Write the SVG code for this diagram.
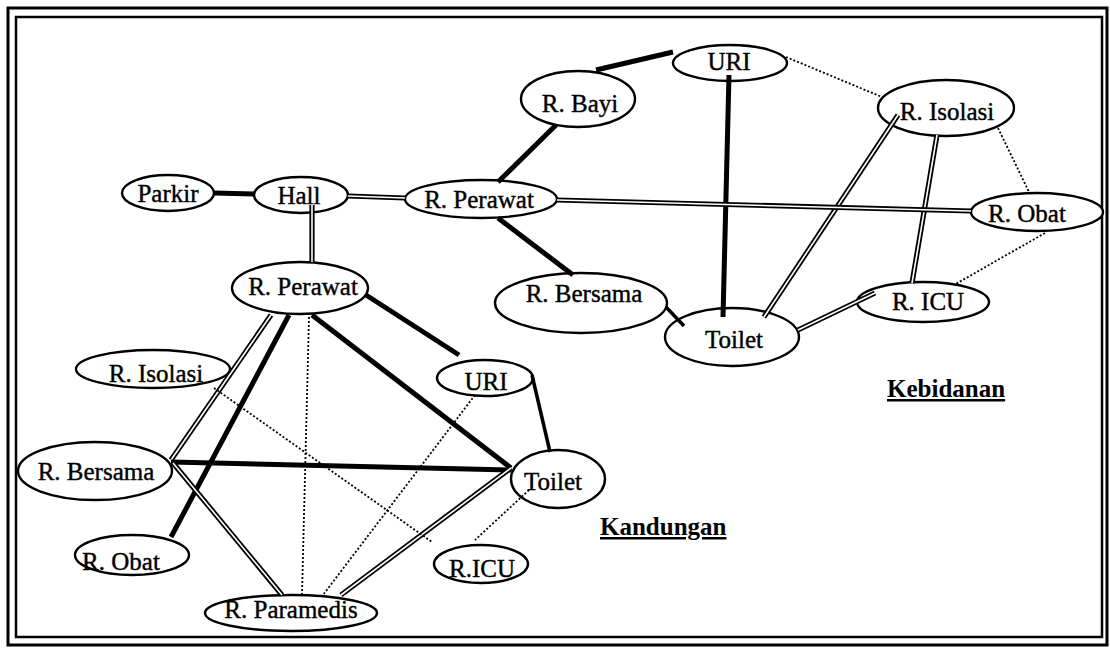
<svg xmlns="http://www.w3.org/2000/svg" width="1110" height="648" viewBox="0 0 1110 648">
<style>
.n{fill:#fff;stroke:#000;stroke-width:2.4}
.t{font-family:"Liberation Serif","Times New Roman",serif;font-size:25px;fill:#000;stroke:#000;stroke-width:0.4;text-anchor:middle}
.h{font-family:"Liberation Serif","Times New Roman",serif;font-size:25px;font-weight:bold;fill:#000;text-decoration:underline}
.k{stroke:#000;stroke-width:5;fill:none;stroke-linecap:butt}
.m{stroke:#000;stroke-width:3.5;fill:none}
.d{stroke:#000;stroke-width:5.2;fill:none}
.dw{stroke:#fff;stroke-width:1.6;fill:none}
.o{stroke:#000;stroke-width:1.8;fill:none;stroke-dasharray:2 2}
</style>
<rect x="0" y="0" width="1110" height="648" fill="#fff"/>
<g id="frame" fill="none" stroke="#000">
<rect x="8" y="8" width="1099" height="637" stroke-width="3"/>
<rect x="16" y="17" width="1086" height="620" stroke-width="2.5"/>
</g>
<g id="n-parkir"><ellipse class="n" cx="168" cy="193" rx="46" ry="18"/><text class="t" x="168" y="202">Parkir</text></g>
<g id="n-hall"><ellipse class="n" cx="301" cy="195" rx="47" ry="18"/><text class="t" x="299" y="204">Hall</text></g>
<g id="n-perawat1"><ellipse class="n" cx="481" cy="199" rx="76" ry="19"/><text class="t" x="479" y="208">R. Perawat</text></g>
<g id="n-bayi"><ellipse class="n" cx="578" cy="99" rx="57" ry="28"/><text class="t" x="580" y="112">R. Bayi</text></g>
<g id="n-uri1"><ellipse class="n" cx="730" cy="63" rx="57" ry="18"/><text class="t" x="729" y="70">URI</text></g>
<g id="n-isolasi1"><ellipse class="n" cx="946" cy="108" rx="68" ry="28"/><text class="t" x="947" y="120">R. Isolasi</text></g>
<g id="n-obat1"><ellipse class="n" cx="1037" cy="212" rx="66" ry="19"/><text class="t" x="1027" y="222">R. Obat</text></g>
<g id="n-icu1"><ellipse class="n" cx="923" cy="302" rx="66" ry="20"/><text class="t" x="928" y="310">R. ICU</text></g>
<g id="n-bersama1"><ellipse class="n" cx="581" cy="303" rx="86" ry="30"/><text class="t" x="584" y="302">R. Bersama</text></g>
<g id="n-toilet1"><ellipse class="n" cx="732" cy="337" rx="67" ry="29"/><text class="t" x="734" y="348">Toilet</text></g>
<g id="n-perawat2"><ellipse class="n" cx="300" cy="288" rx="68" ry="26"/><text class="t" x="303" y="295">R. Perawat</text></g>
<g id="n-isolasi2"><ellipse class="n" cx="153" cy="369" rx="77" ry="19"/><text class="t" x="156" y="382">R. Isolasi</text></g>
<g id="n-uri2"><ellipse class="n" cx="485" cy="378" rx="48" ry="18"/><text class="t" x="486" y="390">URI</text></g>
<g id="n-bersama2"><ellipse class="n" cx="95" cy="471" rx="77" ry="29"/><text class="t" x="96" y="480">R. Bersama</text></g>
<g id="n-toilet2"><ellipse class="n" cx="558" cy="479" rx="47" ry="29"/><text class="t" x="553" y="490">Toilet</text></g>
<g id="n-obat2"><ellipse class="n" cx="132" cy="555" rx="57" ry="20"/><text class="t" x="121" y="570">R. Obat</text></g>
<g id="n-icu2"><ellipse class="n" cx="481" cy="564" rx="47" ry="19"/><text class="t" x="482" y="577">R.ICU</text></g>
<g id="n-paramedis"><ellipse class="n" cx="291" cy="613" rx="86" ry="18"/><text class="t" x="291" y="618">R. Paramedis</text></g>
<g id="connectors">
<line class="k" x1="214" y1="193" x2="254" y2="194"/>
<line class="d" x1="348" y1="196" x2="405" y2="198"/><line class="dw" x1="348" y1="196" x2="405" y2="198"/>
<line class="d" x1="312" y1="205" x2="312" y2="262"/><line class="dw" x1="312" y1="205" x2="312" y2="262"/>
<line class="k" x1="498" y1="182" x2="556" y2="125"/>
<line class="k" x1="596" y1="70" x2="673" y2="52"/>
<line class="k" x1="729" y1="75" x2="723" y2="317"/>
<line class="o" x1="786" y1="57" x2="882" y2="97"/>
<line class="o" x1="998" y1="128" x2="1029" y2="192"/>
<line class="o" x1="1045" y1="233" x2="954" y2="285"/>
<line class="d" x1="937" y1="135" x2="912" y2="283"/><line class="dw" x1="937" y1="135" x2="912" y2="283"/>
<line class="d" x1="898" y1="115" x2="764" y2="317"/><line class="dw" x1="898" y1="115" x2="764" y2="317"/>
<line class="d" x1="875" y1="293" x2="798" y2="330"/><line class="dw" x1="875" y1="293" x2="798" y2="330"/>
<line class="d" x1="557" y1="200" x2="971" y2="211"/><line class="dw" x1="557" y1="200" x2="971" y2="211"/>
<line class="k" x1="498" y1="218" x2="573" y2="275"/>
<line class="m" x1="666" y1="307" x2="684" y2="326"/>
<line class="k" x1="366" y1="295" x2="459" y2="355"/>
<line class="m" x1="532" y1="375" x2="550" y2="452"/>
<line class="k" x1="312" y1="315" x2="511" y2="468"/>
<line class="o" x1="309" y1="317" x2="302" y2="595"/>
<line class="d" x1="271" y1="315" x2="171" y2="460"/><line class="dw" x1="271" y1="315" x2="171" y2="460"/>
<line class="k" x1="289" y1="315" x2="171" y2="537"/>
<line class="k" x1="171" y1="462" x2="511" y2="470"/>
<line class="d" x1="173" y1="463" x2="282" y2="595"/><line class="dw" x1="173" y1="463" x2="282" y2="595"/>
<line class="d" x1="511" y1="468" x2="341" y2="595"/><line class="dw" x1="511" y1="468" x2="341" y2="595"/>
<line class="o" x1="214" y1="388" x2="432" y2="542"/>
<line class="o" x1="475" y1="395" x2="323" y2="595"/>
<line class="o" x1="529" y1="490" x2="475" y2="540"/>
</g>
<g id="labels">
<text class="h" x="887" y="397">Kebidanan</text>
<text class="h" x="600" y="535">Kandungan</text>
</g>
</svg>
